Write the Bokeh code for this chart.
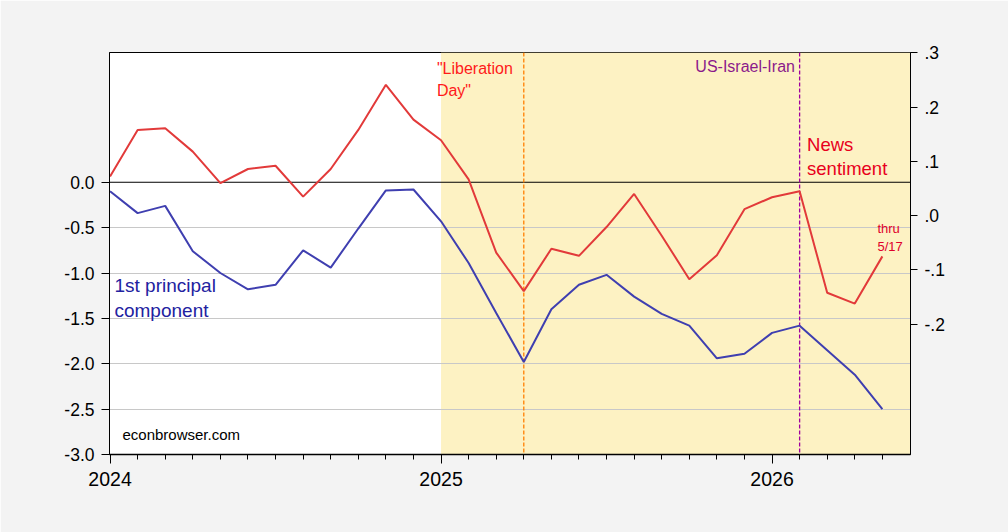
from bokeh.plotting import figure
from bokeh.models import (Range1d, LinearAxis, FixedTicker, Span, BoxAnnotation,
                          Label, PrintfTickFormatter)
from bokeh.embed import file_html
from bokeh.resources import INLINE

# ---------------- data ----------------
months = ["2024-01", "2024-02", "2024-03", "2024-04", "2024-05", "2024-06",
          "2024-07", "2024-08", "2024-09", "2024-10", "2024-11", "2024-12",
          "2025-01", "2025-02", "2025-03", "2025-04", "2025-05", "2025-06",
          "2025-07", "2025-08", "2025-09", "2025-10", "2025-11", "2025-12",
          "2026-01", "2026-02", "2026-03", "2026-04", "2026-05"]

principal_component = [-0.10, -0.34, -0.26, -0.76, -1.00, -1.18, -1.13, -0.75,
                       -0.94, -0.51, -0.09, -0.08, -0.43, -0.89, -1.44, -1.98,
                       -1.40, -1.13, -1.02, -1.26, -1.45, -1.58, -1.94, -1.89,
                       -1.66, -1.58, -1.85, -2.12, -2.50]

news_sentiment = [0.072, 0.158, 0.161, 0.118, 0.060, 0.086, 0.092, 0.035,
                  0.086, 0.158, 0.241, 0.177, 0.139, 0.067, -0.068, -0.139,
                  -0.061, -0.074, -0.021, 0.040, -0.037, -0.117, -0.073, 0.012,
                  0.034, 0.045, -0.142, -0.162, -0.075]

year_labels = ["2024", "2025", "2026"]
left_ticks = [0.0, -0.5, -1.0, -1.5, -2.0, -2.5, -3.0]
right_ticks = [0.3, 0.2, 0.1, 0.0, -0.1, -0.2]
right_tick_labels = [".3", ".2", ".1", ".0", "-.1", "-.2"]
shade_start = "2025-01"
event_months = ["2025-04", "2026-02"]

# ---------------- figure ----------------
x = list(range(len(months)))
FONT = "Liberation Sans"
BG = "#f3f3f3"

p = figure(width=1008, height=532, output_backend="svg", toolbar_location=None,
           x_range=Range1d(-0.02, 29.02), y_range=Range1d(-3.0, 1.43))
p.min_border_left = 109
p.min_border_right = 98
p.min_border_top = 52
p.min_border_bottom = 78
p.border_fill_color = BG
p.background_fill_color = "white"
p.outline_line_color = "black"
p.outline_line_width = 1

p.extra_y_ranges = {"right": Range1d(-0.44, 0.3006)}

# shading
p.add_layout(BoxAnnotation(left=months.index(shade_start), fill_color="#fdf2c3",
                           fill_alpha=1.0, line_alpha=0, level="image"))

# grid
p.xgrid.visible = False
p.ygrid.ticker = FixedTicker(ticks=[t for t in left_ticks if t not in (0.0, -3.0)])
p.ygrid.grid_line_color = "#c8c8c8"
p.ygrid.grid_line_width = 1

# zero line
p.add_layout(Span(location=0, dimension="width", line_color="black",
                  line_width=1, level="underlay"))

# event lines
p.add_layout(Span(location=months.index(event_months[0]), dimension="height",
                  line_color="#ff7f00", line_width=1.3, line_dash="4 2",
                  level="underlay"))
p.add_layout(Span(location=months.index(event_months[1]), dimension="height",
                  line_color="#a000a0", line_width=1.3, line_dash="4 2",
                  level="underlay"))

# series
p.line(x, news_sentiment, y_range_name="right", line_color="#e23a3a", line_width=2)
p.line(x, principal_component, line_color="#3f3fb0", line_width=2)

# axes
xa = p.xaxis[0]
xa.ticker = FixedTicker(ticks=[0, 12, 24], minor_ticks=x)
xa.major_label_overrides = {0: year_labels[0], 12: year_labels[1], 24: year_labels[2]}
xa.major_tick_in = 0
xa.major_tick_out = 9
xa.minor_tick_in = 0
xa.minor_tick_out = 5
xa.major_label_standoff = 8
xa.major_label_text_font = FONT
xa.major_label_text_font_size = "19.5px"
xa.major_label_text_color = "black"
xa.axis_line_color = "black"
xa.axis_line_width = 1.5
xa.major_tick_line_color = "black"
xa.minor_tick_line_color = "black"

ya = p.yaxis[0]
ya.ticker = FixedTicker(ticks=left_ticks)
ya.formatter = PrintfTickFormatter(format="%.1f")
ya.major_tick_in = 0
ya.major_tick_out = 8
ya.minor_tick_line_color = None
ya.major_label_standoff = 7
ya.major_label_text_font = FONT
ya.major_label_text_font_size = "17.5px"
ya.major_label_text_color = "black"
ya.axis_line_color = "black"
ya.major_tick_line_color = "black"

ra = LinearAxis(y_range_name="right")
ra.ticker = FixedTicker(ticks=right_ticks)
ra.major_label_overrides = dict(zip(right_ticks, right_tick_labels))
ra.major_tick_in = 0
ra.major_tick_out = 7
ra.minor_tick_line_color = None
ra.major_label_standoff = 7
ra.major_label_text_font = FONT
ra.major_label_text_font_size = "17.5px"
ra.major_label_text_color = "black"
ra.axis_line_color = "black"
ra.major_tick_line_color = "black"
p.add_layout(ra, "right")

LIFT = 0.07  # raise text labels slightly (baseline rendering offset)


def lab(text, xx, yy, color, size, align="left", font=FONT):
    p.add_layout(Label(x=xx, y=yy + LIFT, text=text, text_color=color,
                       text_font=font, text_font_size=size,
                       text_align=align, text_baseline="alphabetic"))


lab("1st principal", 0.16, -1.209, "#2222a0", "19px")
lab("component", 0.16, -1.479, "#2222a0", "19px")
lab("econbrowser.com", 0.45, -2.846, "black", "15px")
lab("\"Liberation", 11.85, 1.184, "#ff1a1a", "16px")
lab("Day\"", 11.85, 0.945, "#ff1a1a", "16px")
lab("US-Israel-Iran", 24.83, 1.206, "#8b1a8b", "16px", align="right")
lab("News", 25.27, 0.350, "#e8001c", "18.5px")
lab("sentiment", 25.27, 0.082, "#e8001c", "18.5px")
lab("thru", 27.82, -0.576, "#e0002a", "13px")
lab("5/17", 27.82, -0.782, "#e0002a", "13px")

html = file_html(p, INLINE)
html = html.replace("<body>", "<body style=\"margin:0;background-color:%s;\">" % BG, 1)
open("out.html", "w").write(html)
